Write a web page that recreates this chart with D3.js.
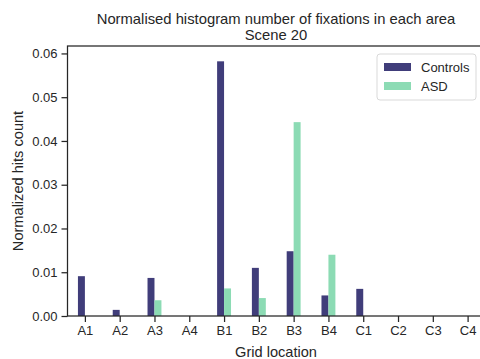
<!DOCTYPE html>
<html>
<head>
<meta charset="utf-8">
<script src="https://cdn.jsdelivr.net/npm/d3@7"></script>
<style>
  body { margin: 0; background: #fff; }
  text { font-family: "Liberation Sans", Arial, sans-serif; fill: #262626; }
</style>
</head>
<body>
<div id="chart"></div>
<script>
// data
var categories = ['A1', 'A2', 'A3', 'A4', 'B1', 'B2', 'B3', 'B4', 'C1', 'C2', 'C3', 'C4'];
var controls = [0.0091, 0.0014, 0.0087, 0, 0.0582, 0.011, 0.0148, 0.0047, 0.0062, 0, 0, 0];
var asd = [0, 0, 0.0036, 0, 0.0063, 0.0041, 0.0443, 0.014, 0, 0, 0, 0];
var yTicks = [0, 0.01, 0.02, 0.03, 0.04, 0.05, 0.06];
var series = [
  {name: 'Controls', values: controls, color: '#403d7a', offset: -0.1},
  {name: 'ASD', values: asd, color: '#8cdbb4', offset: 0.1}
];

var width = 480, height = 359;
var margin = {left: 67.5, top: 46, bottom: 316};

var svg = d3.select('#chart')
  .append('svg')
  .attr('width', width)
  .attr('height', height);

// x is continuous in category index so bars can sit beside each tick
var x = d3.scaleLinear()
  .domain([-0.5, 11.5])
  .range([margin.left, 485]);

var y = d3.scaleLinear()
  .domain([0, 0.0617])
  .range([margin.bottom, margin.top]);

var barW = x(0.2) - x(0);

// bars
series.forEach(function(s) {
  svg.append('g')
    .selectAll('rect')
    .data(s.values)
    .enter()
    .append('rect')
    .attr('x', (d, i) => s.offset < 0 ? x(i) - barW : x(i))
    .attr('y', d => y(d))
    .attr('width', barW)
    .attr('height', d => y(0) - y(d))
    .attr('fill', s.color);
});

// axes
var xAxis = d3.axisBottom(x)
  .tickValues(d3.range(categories.length))
  .tickFormat(i => categories[i])
  .tickSize(6)
  .tickPadding(4);

var yAxis = d3.axisLeft(y)
  .tickValues(yTicks)
  .tickFormat(d3.format('.2f'))
  .tickSize(6)
  .tickPadding(4);

var gx = svg.append('g')
  .attr('transform', `translate(0,${margin.bottom})`)
  .call(xAxis);

var gy = svg.append('g')
  .attr('transform', `translate(${margin.left},0)`)
  .call(yAxis);

[gx, gy].forEach(function(g) {
  g.select('.domain').remove();
  g.selectAll('.tick line').attr('stroke', '#262626').attr('stroke-width', 1.25);
  g.selectAll('.tick text')
    .style('font-family', '"Liberation Sans", Arial, sans-serif')
    .style('font-size', '13px')
    .attr('fill', '#262626');
});

// spines (right one falls just outside the picture)
var spines = svg.append('g')
  .attr('fill', 'none')
  .attr('stroke', '#262626')
  .attr('stroke-width', 1.25);

spines.append('rect')
  .attr('x', margin.left)
  .attr('y', margin.top)
  .attr('width', x(11.5) - margin.left)
  .attr('height', margin.bottom - margin.top);

// title
svg.append('text')
  .attr('x', 276)
  .attr('y', 24)
  .attr('text-anchor', 'middle')
  .style('font-size', '14.8px')
  .text('Normalised histogram number of fixations in each area');

svg.append('text')
  .attr('x', 276)
  .attr('y', 40)
  .attr('text-anchor', 'middle')
  .style('font-size', '14.8px')
  .text('Scene 20');

// axis labels
svg.append('text')
  .attr('x', 276)
  .attr('y', 357)
  .attr('text-anchor', 'middle')
  .style('font-size', '14.6px')
  .text('Grid location');

svg.append('text')
  .attr('transform', `translate(23,${(margin.top + margin.bottom) / 2}) rotate(-90)`)
  .attr('text-anchor', 'middle')
  .style('font-size', '14.6px')
  .text('Normalized hits count');

// legend
var legend = svg.append('g')
  .attr('transform', 'translate(377,54)');

legend.append('rect')
  .attr('width', 99)
  .attr('height', 46)
  .attr('rx', 3)
  .attr('fill', '#fff')
  .attr('fill-opacity', 0.8)
  .attr('stroke', '#d9d9d9');

series.forEach(function(s, i) {
  legend.append('rect')
    .attr('x', 7)
    .attr('y', 9 + i * 19)
    .attr('width', 27)
    .attr('height', 8)
    .attr('fill', s.color);
  legend.append('text')
    .attr('x', 44)
    .attr('y', 18 + i * 19)
    .style('font-size', '13px')
    .text(s.name);
});
</script>
</body>
</html>
